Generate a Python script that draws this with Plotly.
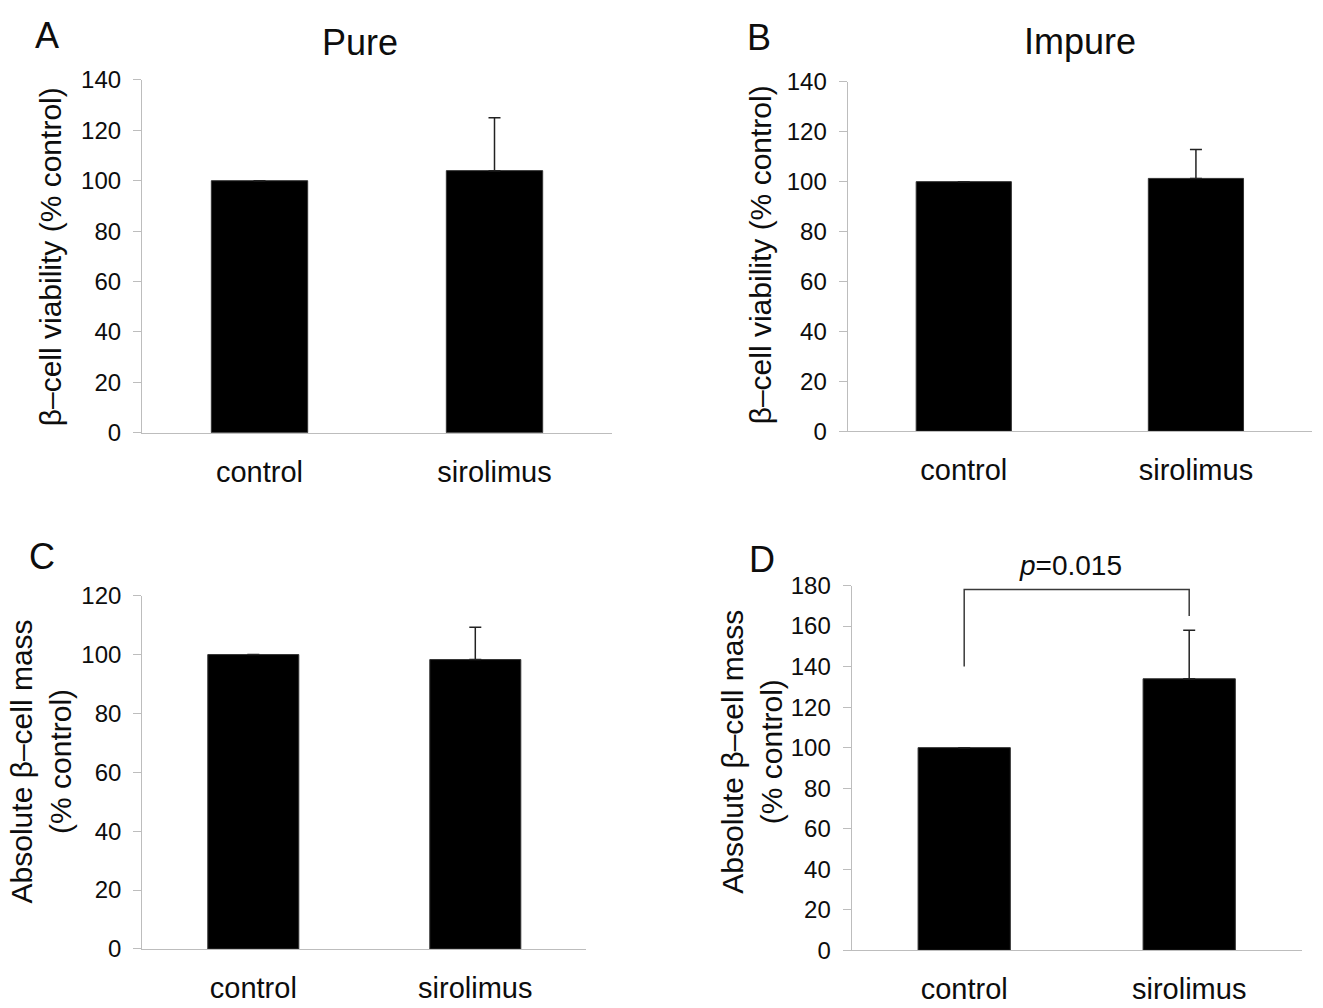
import plotly.graph_objects as go

W, H = 1323, 1008

categories = ["control", "sirolimus"]

# Panel values (mean, upper SD)
pure_viability = [100, 104]
pure_viability_err = [0, 21]
impure_viability = [100, 101.3]
impure_viability_err = [0, 11.6]
pure_mass = [100, 98.3]
pure_mass_err = [0, 11]
impure_mass = [100, 134]
impure_mass_err = [0, 24]

# significance bracket in panel D (y values)
bracket_x = ["control", "control", "sirolimus", "sirolimus"]
bracket_y = [140, 178, 178, 165]

y_ranges = {"A": [0, 140], "B": [0, 140], "C": [0, 120], "D": [0, 180]}

FONT = "Liberation Sans, Arial, sans-serif"
AXIS_COLOR = "#bdbdbd"
TEXT = "#0d0d0d"

def px_x(p):
    return p / W

def px_y(p):
    return 1 - p / H

# domains in pixels: (x0, x1, ytop, ybottom)
domains = {
    "A": (142, 612, 67.7, 430.3),
    "B": (847.7, 1312, 69.7, 428.7),
    "C": (142.3, 586.3, 597.7, 960.7),
    "D": (851.7, 1301.7, 587.3, 962),
}

fig = go.Figure()

panels = [
    ("A", pure_viability, pure_viability_err, ""),
    ("B", impure_viability, impure_viability_err, "2"),
    ("C", pure_mass, pure_mass_err, "3"),
    ("D", impure_mass, impure_mass_err, "4"),
]

layout = dict(
    width=W, height=H,
    margin=dict(l=0, r=0, t=0, b=0),
    paper_bgcolor="white", plot_bgcolor="white",
    showlegend=False,
    font=dict(family=FONT, color=TEXT),
)

for name, vals, errs, suf in panels:
    fig.add_trace(go.Bar(
        x=categories, y=vals, width=0.41,
        marker=dict(color="black", line=dict(color="#333333", width=1)),
        error_y=dict(type="data", symmetric=False, array=errs,
                     arrayminus=[0, 0], color="#222222", thickness=1.5, width=6),
        xaxis="x" + suf, yaxis="y" + suf,
    ))
    x0, x1, yt, yb = domains[name]
    rng = y_ranges[name]
    layout["xaxis" + suf] = dict(
        domain=[px_x(x0), px_x(x1)], anchor="y" + suf,
        range=[-0.5, 1.5], showline=True, linecolor=AXIS_COLOR, linewidth=1.2,
        ticks="", showgrid=False, zeroline=False,
        tickfont=dict(size=29, family=FONT, color=TEXT),
        ticklabelstandoff=13, fixedrange=True,
    )
    layout["yaxis" + suf] = dict(
        domain=[px_y(yb), px_y(yt)], anchor="x" + suf,
        range=rng, dtick=20, showline=True, linecolor=AXIS_COLOR, linewidth=1.2,
        ticks="outside", ticklen=8, tickcolor=AXIS_COLOR, tickwidth=1.2,
        showgrid=False, zeroline=False,
        tickfont=dict(size=24, family=FONT, color=TEXT),
        ticklabelstandoff=7, fixedrange=True,
    )

fig.add_trace(go.Scatter(
    x=bracket_x, y=bracket_y, mode="lines",
    line=dict(color="#3a3a3a", width=1.5),
    xaxis="x4", yaxis="y4", hoverinfo="skip",
))

fig.update_layout(**layout)

def ann(text, x, y, size, angle=0, **kw):
    fig.add_annotation(text=text, x=px_x(x), y=px_y(y), xref="paper", yref="paper",
                       showarrow=False, textangle=angle, xanchor="center", yanchor="middle",
                       font=dict(size=size, family=FONT, color=TEXT), **kw)

# panel letters
ann("A", 47, 22, 36)
ann("B", 759, 24, 36)
ann("C", 42, 557, 36)
ann("D", 762, 561, 36)

# titles
ann("Pure", 360, 29, 36)
ann("Impure", 1080, 28, 36)

# y-axis titles
ann("β–cell viability (% control)", 50, 250, 30, angle=-90)
ann("β–cell viability (% control)", 760, 248, 30, angle=-90)
ann("Absolute β–cell mass<br>(% control)", 41, 768, 30, angle=-90)
ann("Absolute β–cell mass<br>(% control)", 752, 758, 30, angle=-90)

# p value
ann("<i>p</i>=0.015", 1070, 567, 28)

fig.write_html("out.html")
